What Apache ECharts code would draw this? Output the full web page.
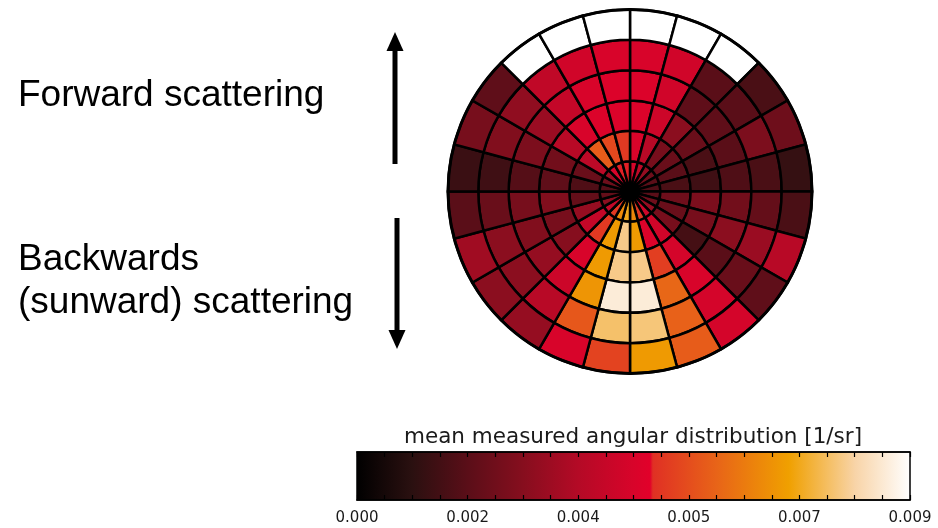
<!DOCTYPE html>
<html><head><meta charset="utf-8">
<script src="https://cdn.jsdelivr.net/npm/echarts@6/dist/echarts.min.js"></script>
<style>html,body{margin:0;padding:0;background:#fff}#c{width:938px;height:528px}</style>
</head><body><div id="c"></div>
<script>
// angular sectors: 24 x 15 deg, clockwise from the top (forward direction); rings: 6, inner -> outer
const sectorStartDeg = [0,15,30,45,60,75,90,105,120,135,150,165,180,195,210,225,240,255,270,285,300,315,330,345];
const ringIndex = [0,1,2,3,4,5];
// mean measured angular distribution [1/sr]; null = no measurement (white)
const ring0 = [0.0044,0.0038,0.0030,0.0022,0.0018,0.0016,0.0018,0.0022,0.0030,0.0042,0.0050,0.0065,0.0072,0.0066,0.0050,0.0040,0.0028,0.0020,0.0017,0.0022,0.0032,0.0045,0.0048,0.0048];
const ring1 = [0.0045,0.0037,0.0024,0.0021,0.0018,0.0015,0.0022,0.0021,0.0024,0.0043,0.0046,0.0069,0.0079,0.0069,0.0050,0.0040,0.0030,0.0020,0.0016,0.0021,0.0038,0.0057,0.0053,0.0050];
const ring2 = [0.0046,0.0042,0.0028,0.0021,0.0015,0.0013,0.0025,0.0024,0.0014,0.0044,0.0051,0.0079,0.0079,0.0069,0.0045,0.0027,0.0024,0.0026,0.0019,0.0023,0.0037,0.0045,0.0046,0.0046];
const ring3 = [0.0046,0.0043,0.0019,0.0019,0.0018,0.0016,0.0023,0.0028,0.0018,0.0045,0.0059,0.0086,0.0086,0.0068,0.0042,0.0030,0.0026,0.0024,0.0017,0.0025,0.0031,0.0040,0.0045,0.0046];
const ring4 = [0.0045,0.0043,0.0018,0.0018,0.0025,0.0015,0.0020,0.0031,0.0021,0.0044,0.0058,0.0078,0.0077,0.0056,0.0037,0.0028,0.0028,0.0021,0.0013,0.0026,0.0029,0.0039,0.0043,0.0045];
const ring5 = [null,null,null,0.0015,0.0022,0.0011,0.0015,0.0037,0.0019,0.0044,0.0057,0.0069,0.0052,0.0045,0.0030,0.0028,0.0032,0.0018,0.0012,0.0024,0.0019,null,null,null];
const rings = [ring0, ring1, ring2, ring3, ring4, ring5];
// colour bar
const cbarMin = 0, cbarMax = 0.009, cbarStep = 0.0018;
const cmapPos = [0,0.1,0.2,0.3,0.4,0.5,0.53,0.535,0.65,0.78,0.9,1];
const cmapCol = ['#000000','#2a1010','#5a0e18','#860e1e','#b40a26','#d8042a','#e2002a','#e03024','#e86418','#f0a000','#f8d4a8','#ffffff'];

function hex2rgb(h){return [parseInt(h.slice(1,3),16),parseInt(h.slice(3,5),16),parseInt(h.slice(5,7),16)];}
function colorAt(v){
  if (v == null || isNaN(v)) return '#ffffff';
  let t = (v - cbarMin) / (cbarMax - cbarMin);
  t = Math.max(0, Math.min(1, t));
  for (let i = 0; i < cmapPos.length - 1; i++) {
    if (t <= cmapPos[i+1]) {
      const f = (t - cmapPos[i]) / (cmapPos[i+1] - cmapPos[i]);
      const a = hex2rgb(cmapCol[i]), b = hex2rgb(cmapCol[i+1]);
      return 'rgb(' + a.map((x,k)=>Math.round(x + (b[k]-x)*f)).join(',') + ')';
    }
  }
  return cmapCol[cmapCol.length-1];
}

const polarData = [];
ringIndex.forEach(r => sectorStartDeg.forEach((a, s) => {
  polarData.push([r + 0.5, a + 7.5, rings[r][s] == null ? '-' : rings[r][s]]);
}));

const chart = echarts.init(document.getElementById('c'), null, {renderer:'canvas'});
chart.setOption({
  animation: false,
  backgroundColor: '#fff',
  polar: { center: [630, 191.5], radius: 182 },
  radiusAxis: { type: 'value', min: 0, max: 6, show: false },
  angleAxis: { type: 'value', min: 0, max: 360, startAngle: 90, clockwise: true, z: 10,
    axisLine: { show: true, lineStyle: { color: '#000', width: 3 } },
    axisTick: { show: false }, axisLabel: { show: false }, splitLine: { show: false } },
  grid: { left: 357, top: 452, width: 553, height: 48 },
  xAxis: [
    { type: 'value', gridIndex: 0, min: cbarMin, max: cbarMax, interval: cbarStep, z: 10,
      axisLine: { show: true, onZero: false, lineStyle: { color: '#000', width: 1.5 } },
      axisTick: { show: true, inside: true, length: 5, lineStyle: { color: '#000', width: 1.2 } },
      minorTick: { show: true, splitNumber: 4, length: 5, lineStyle: { color: '#000', width: 1.2 } },
      splitLine: { show: false },
      axisLabel: { fontSize: 15, color: '#1a1a1a', margin: 11, fontFamily: 'DejaVu Sans',
        formatter: v => v.toFixed(3) } },
    { type: 'value', gridIndex: 0, position: 'top', min: cbarMin, max: cbarMax, interval: cbarStep, z: 10,
      axisLine: { show: true, onZero: false, lineStyle: { color: '#000', width: 1.5 } },
      axisTick: { show: true, inside: true, length: 5, lineStyle: { color: '#000', width: 1.2 } },
      minorTick: { show: true, splitNumber: 4, length: 5, lineStyle: { color: '#000', width: 1.2 } },
      splitLine: { show: false }, axisLabel: { show: false } }
  ],
  yAxis: { type: 'value', gridIndex: 0, min: 0, max: 1, show: false },
  series: [
    { type: 'custom', coordinateSystem: 'polar', data: polarData,
      renderItem: function (params, api) {
        const rc = api.value(0), ac = api.value(1), v = api.value(2);
        const cs = params.coordSys;
        const cx = cs.cx, cy = cs.cy;
        const pIn = api.coord([rc - 0.5, ac - 7.5]);
        const pA = api.coord([rc + 0.5, ac - 7.5]);
        const pB = api.coord([rc + 0.5, ac + 7.5]);
        const r0 = Math.hypot(pIn[0]-cx, pIn[1]-cy);
        const r = Math.hypot(pA[0]-cx, pA[1]-cy);
        let a0 = Math.atan2(pA[1]-cy, pA[0]-cx);
        let a1 = Math.atan2(pB[1]-cy, pB[0]-cx);
        if (a1 < a0) a1 += Math.PI * 2;
        return { type: 'sector',
          shape: { cx: cx, cy: cy, r0: r0, r: r, startAngle: a0, endAngle: a1, clockwise: true },
          style: { fill: colorAt(v), stroke: '#000', lineWidth: 2.5 } };
      } },
    { type: 'custom', coordinateSystem: 'cartesian2d', xAxisIndex: 0, yAxisIndex: 0, z: 2,
      data: [[cbarMin, 0, cbarMax, 1]],
      renderItem: function (params, api) {
        const p0 = api.coord([api.value(0), api.value(3)]);
        const p1 = api.coord([api.value(2), api.value(1)]);
        return { type: 'rect',
          shape: { x: p0[0], y: p0[1], width: p1[0]-p0[0], height: p1[1]-p0[1] },
          style: { fill: new echarts.graphic.LinearGradient(0, 0, 1, 0,
              cmapPos.map((p,i)=>({offset:p, color:cmapCol[i]}))),
            stroke: '#000', lineWidth: 1.5 } };
      } }
  ],
  graphic: [
    { type: 'text', x: 633, y: 437, z: 20, style: { text: 'mean measured angular distribution [1/sr]',
        fontFamily: 'DejaVu Sans', fontSize: 21.5, fill: '#1a1a1a', align: 'center', verticalAlign: 'middle' } },
    { type: 'text', x: 18, y: 96, style: { text: 'Forward scattering', fontFamily: 'Liberation Sans',
        fontSize: 37, fill: '#000', align: 'left', verticalAlign: 'middle' } },
    { type: 'text', x: 18, y: 260, style: { text: 'Backwards', fontFamily: 'Liberation Sans',
        fontSize: 37, fill: '#000', align: 'left', verticalAlign: 'middle' } },
    { type: 'text', x: 18, y: 303, style: { text: '(sunward) scattering', fontFamily: 'Liberation Sans',
        fontSize: 37, fill: '#000', align: 'left', verticalAlign: 'middle' } },
    { type: 'line', shape: { x1: 395, y1: 164, x2: 395, y2: 48 }, style: { stroke: '#000', lineWidth: 5 } },
    { type: 'polygon', shape: { points: [[395, 32], [386.5, 51], [403.5, 51]] }, style: { fill: '#000' } },
    { type: 'line', shape: { x1: 397, y1: 218, x2: 397, y2: 333 }, style: { stroke: '#000', lineWidth: 5 } },
    { type: 'polygon', shape: { points: [[397, 349], [388.5, 330], [405.5, 330]] }, style: { fill: '#000' } }
  ]
});
</script></body></html>
